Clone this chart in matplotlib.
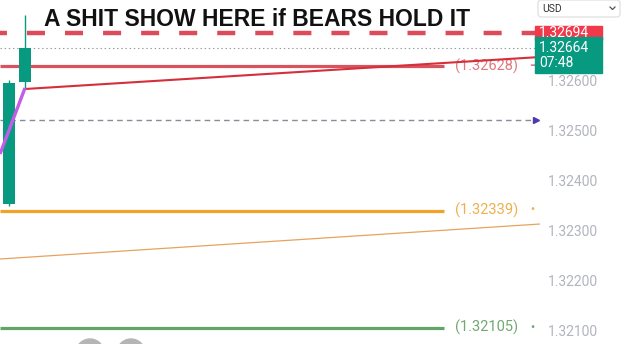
import matplotlib.pyplot as plt
from matplotlib.patches import Rectangle, FancyBboxPatch, Circle

plt.rcParams['font.family'] = ['Roboto', 'DejaVu Sans']
plt.rcParams['lines.scale_dashes'] = False

# candles (bar index, OHLC)
candle_idx = [0, 1]
opens = [1.32352, 1.32596]
highs = [1.32600, 1.32730]
lows = [1.32348, 1.32584]
closes = [1.32594, 1.32664]

# horizontal levels with labels
levels = [1.32628, 1.32339, 1.32105]
level_colors = ['#d9535f', '#f0a326', '#62a566']
level_text_colors = ['#e07880', '#efb04e', '#72a872']
level_tails = ['-', '•', '•']

# trend lines: (x0, x1), (y0, y1) in bar units / price
red_trend = ([1.0, 33.2], [1.32582, 1.32646])
orange_trend = ([-0.56, 33.2], [1.32242, 1.32312])
purple_leg = ([-0.56, 1.0], [1.32452, 1.32584])

alert_price = 1.32694
last_price = 1.32664
countdown = '07:48'
target_price = 1.32520
yticks = [1.321, 1.322, 1.323, 1.324, 1.325, 1.326]

title = 'A SHIT SHOW HERE if BEARS HOLD IT'

fig = plt.figure(figsize=(6.25, 3.44), dpi=100)
ax = fig.add_axes([0, 0, 540 / 625, 1])
ax.set_xlim(-0.5625, 33.1875)
ax.set_ylim(1.32072, 1.32760)
for s in ax.spines.values():
    s.set_visible(False)
ax.set_xticks([])
ax.yaxis.tick_right()
ax.set_yticks(yticks)
ax.set_yticklabels([f'{v:.5f}' for v in yticks])
ax.tick_params(axis='y', length=0, pad=6, labelsize=10, labelcolor='#b2b5be')

up = '#089981'
for i, o, h, l, c in zip(candle_idx, opens, highs, lows, closes):
    ax.vlines(i, l, h, color=up, lw=1, zorder=3)
    ax.bar(i, c - o, bottom=o, width=0.7, color=up, zorder=4)

ax.plot(*purple_leg, color='#c45ce8', lw=2.4, zorder=5, solid_capstyle='butt')

line_end = 27.2
for lev, col, tcol, tail in zip(levels, level_colors, level_text_colors, level_tails):
    ax.hlines(lev, -0.5625, line_end, color=col, lw=2.3, zorder=2)
    ax.text(27.85, lev, f'({lev:.5f})', color=tcol, fontsize=10.5, va='center', ha='left')
    ax.text(32.7, lev, tail, color=tcol, fontsize=8 if tail == '•' else 11,
            va='center', ha='center', fontweight='bold')

ax.plot(*red_trend, color='#d42f3b', lw=1.5, zorder=3)
ax.plot(*orange_trend, color='#e6a35e', lw=0.9, zorder=2)

ax.plot([-0.5625, 32.9], [alert_price] * 2, color='#dd4b5b', lw=3.2,
        linestyle=(8, (13, 14.4)), zorder=2)
ax.plot([-0.5625, 32.9], [last_price] * 2, color='#9598a1', lw=0.8,
        linestyle=(0, (1, 2)), zorder=1)
ax.plot([-0.5625, 32.6], [target_price] * 2, color='#8a8a98', lw=1,
        linestyle=(0, (4, 3)), zorder=1)
ax.plot(32.95, target_price, marker='>', color='#4b3bb0', ms=5, zorder=6)

# price boxes on the scale
ytr = ax.get_yaxis_transform()
bx = 535 / 540
bw = 67 / 540
ax.add_patch(Rectangle((bx, alert_price - 0.00014), bw, 0.00028, transform=ytr,
                       color='#f03a4c', clip_on=False, zorder=10))
ax.text(bx + 0.008, alert_price, f'{alert_price:.5f}', transform=ytr, color='white',
        fontsize=10, va='center', ha='left', clip_on=False, zorder=11)
ax.add_patch(Rectangle((bx, last_price - 0.00050), bw, 0.00072, transform=ytr,
                       color=up, clip_on=False, zorder=10))
ax.text(bx + 0.008, last_price, f'{last_price:.5f}', transform=ytr, color='white',
        fontsize=10, va='center', ha='left', clip_on=False, zorder=11)
ax.text(bx + 0.008, last_price - 0.00030, countdown, transform=ytr, color='white',
        fontsize=10, va='center', ha='left', clip_on=False, zorder=11)

fig.text(44 / 625, 1 - 19 / 344, title, fontsize=16.5, fontweight='bold',
         family=['Liberation Sans', 'DejaVu Sans'],
         color='#111111', va='center', ha='left')

# UI overlay in pixel coords
ui = fig.add_axes([0, 0, 1, 1], facecolor='none')
ui.set_xlim(0, 625)
ui.set_ylim(344, 0)
ui.axis('off')
ui.add_patch(FancyBboxPatch((538, 0), 82, 17, boxstyle='round,pad=0,rounding_size=3',
                            fc='white', ec='#dcdcdc', lw=0.8))
ui.text(542, 8.5, 'USD', fontsize=7.5, va='center', ha='left', color='#333333')
ui.plot([610, 612.5, 615], [7, 9.5, 7], color='#555555', lw=0.9)
ui.add_patch(Circle((90, 353), 14, color='#b5b5b5'))
ui.add_patch(Circle((131, 353), 14, color='#b5b5b5'))

fig.savefig('out.png', dpi=100, facecolor='white')
